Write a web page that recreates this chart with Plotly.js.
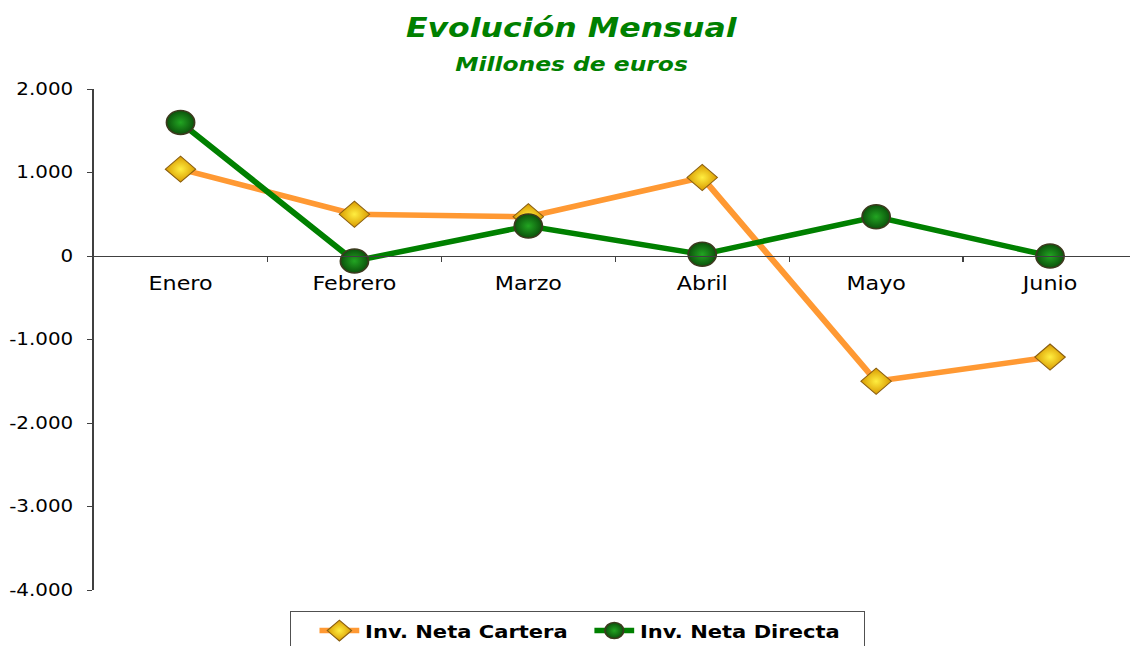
<!DOCTYPE html>
<html>
<head>
<meta charset="utf-8">
<script src="https://cdn.plot.ly/plotly-3.0.1.min.js"></script>
<style>
html,body{margin:0;padding:0;background:#fff;overflow:hidden;}
#chart{width:966px;height:646px;transform:scaleX(1.1698);transform-origin:0 0;}
</style>
</head>
<body>
<div id="chart"></div>
<script>
const months = ["Enero", "Febrero", "Marzo", "Abril", "Mayo", "Junio"];
const carteraName = "Inv. Neta Cartera";
const directaName = "Inv. Neta Directa";
const cartera = [1040, 500, 470, 940, -1500, -1210];
const directa = [1600, -60, 360, 20, 470, 0];
const yTickValues = [-4000, -3000, -2000, -1000, 0, 1000, 2000];
const yTickLabels = ["-4.000", "-3.000", "-2.000", "-1.000", "0", "1.000", "2.000"];
const titleText = "Evolución Mensual";
const subtitleText = "Millones de euros";
const yMin = -4000, yMax = 2000;

const font = "'DejaVu Sans', Verdana, sans-serif";
const green = "#008000";

const traces = [
  {
    x: months, y: cartera, name: carteraName, type: "scatter", mode: "lines+markers",
    line: {color: "#FF9933", width: 5.5},
    marker: {symbol: "diamond", size: 20, color: "#D99A00",
      gradient: {type: "radial", color: "#FFEE40"},
      line: {color: "#8A5E10", width: 1}}
  },
  {
    x: months, y: directa, name: directaName, type: "scatter", mode: "lines+markers",
    line: {color: green, width: 5.5},
    marker: {symbol: "circle", size: 24, color: "#0B520B",
      gradient: {type: "radial", color: "#22A522"},
      line: {color: "#3C3A1E", width: 1.5}}
  }
];

const layout = {
  width: 966, height: 646,
  paper_bgcolor: "#fff", plot_bgcolor: "#fff",
  margin: {l: 79.5, r: 0, t: 89, b: 56, autoexpand: false},
  font: {family: font, color: "#000"},
  showlegend: true,
  annotations: [
    {text: "<b><i>" + titleText + "</i></b>", xref: "paper", yref: "paper",
     x: 0.461, y: 1.122, xanchor: "center", yanchor: "middle", showarrow: false,
     font: {family: font, size: 27, color: green}},
    {text: "<b><i>" + subtitleText + "</i></b>", xref: "paper", yref: "paper",
     x: 0.461, y: 1.05, xanchor: "center", yanchor: "middle", showarrow: false,
     font: {family: font, size: 20, color: green}}
  ],
  xaxis: {
    type: "category",
    range: [-0.5, 5.46],
    anchor: "free",
    position: (0 - yMin) / (yMax - yMin),
    showline: true, linecolor: "#404040", linewidth: 1,
    ticks: "outside", tickson: "boundaries", ticklen: 5, tickcolor: "#404040",
    showgrid: false, zeroline: false,
    tickfont: {family: font, size: 19, color: "#000"},
    ticklabelstandoff: 10
  },
  yaxis: {
    range: [yMin, yMax],
    tickmode: "array", tickvals: yTickValues, ticktext: yTickLabels,
    showline: true, linecolor: "#404040", linewidth: 1,
    ticks: "outside", ticklen: 5, tickcolor: "#404040",
    showgrid: false, zeroline: false,
    tickfont: {family: font, size: 17, color: "#000"},
    ticklabelstandoff: 8
  },
  legend: {
    orientation: "h", x: 0.467, xanchor: "center", y: -0.042, yanchor: "top",
    bordercolor: "#505050", borderwidth: 1.3, bgcolor: "#fff",
    font: {family: font, size: 18, color: "#000", weight: "bold"},
    title: {text: "&nbsp;&nbsp;", font: {family: font, size: 13}},
    itemwidth: 34, entrywidth: 186, tracegroupgap: 0
  }
};

Plotly.newPlot("chart", traces, layout, {displayModeBar: false, staticPlot: true});
</script>
</body>
</html>
